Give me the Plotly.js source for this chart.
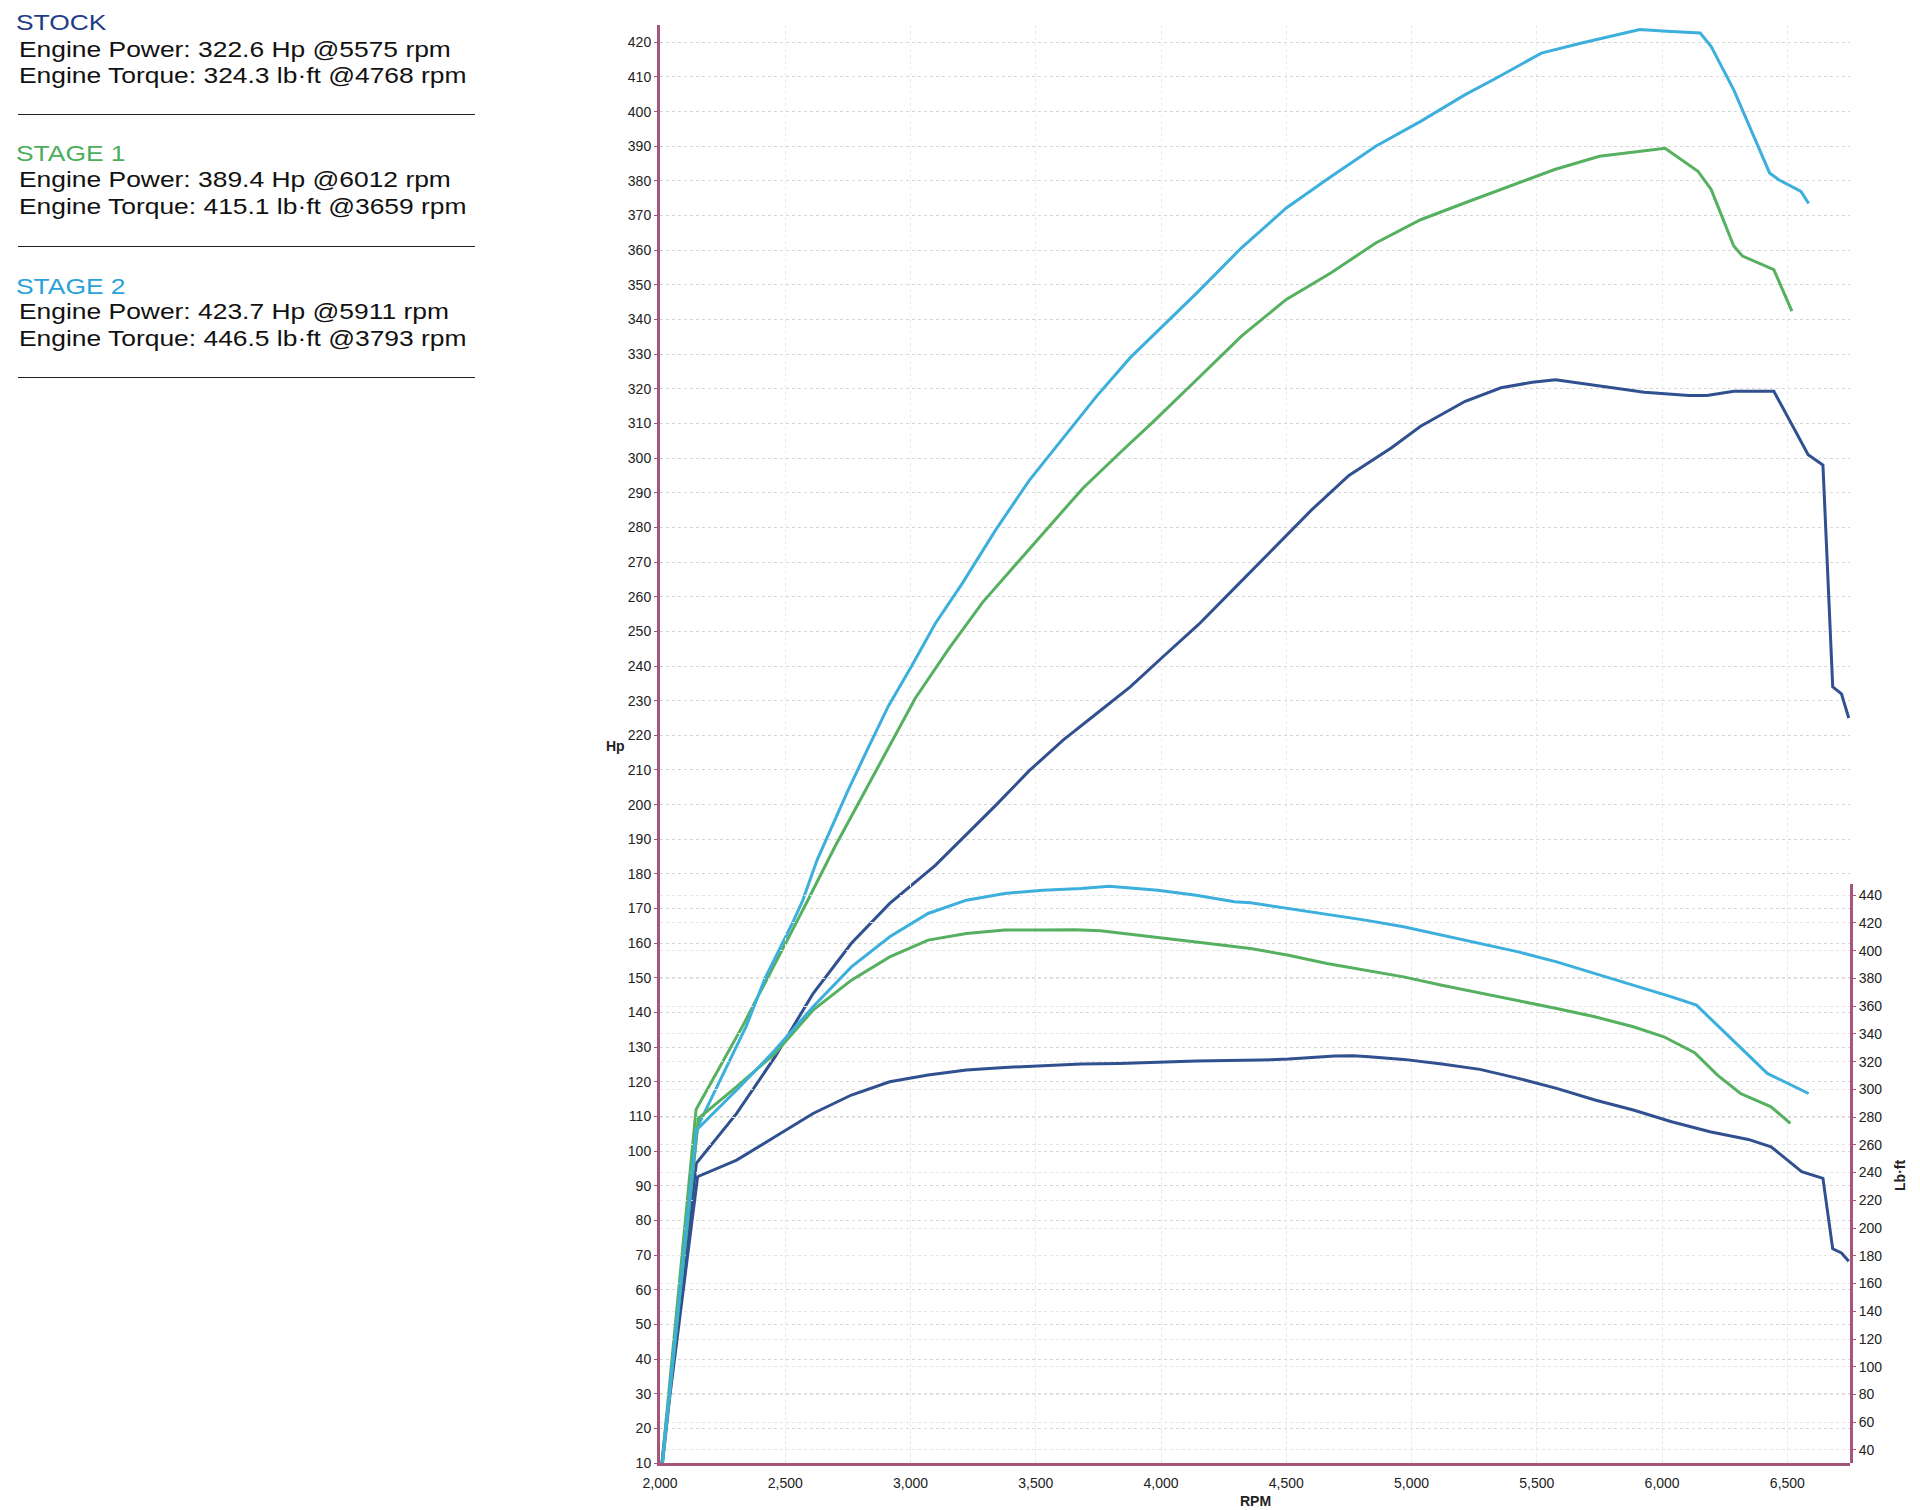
<!DOCTYPE html>
<html>
<head>
<meta charset="utf-8">
<script src="https://cdn.plot.ly/plotly-3.0.1.min.js"></script>
<style>
  body { margin: 0; background: #fff; }
  #plot { width: 1920px; height: 1510px; }
  .info { position: absolute; left: 0; top: 0; font-family: "Liberation Sans", Arial, sans-serif; }
  .info div { position: absolute; white-space: nowrap; font-size: 22px; line-height: 24px; color: #111;
              transform: scaleX(1.2); transform-origin: left center; }
  .info .sep { height: 0; border-top: 1.5px solid #222; width: 457px; left: 18px; transform: none; }
</style>
</head>
<body>
<div id="plot"></div>
<div class="info">
  <div style="left:16px;top:11px;color:#1f3c88">STOCK</div>
  <div style="left:19px;top:38px">Engine Power: 322.6 Hp @5575 rpm</div>
  <div style="left:19px;top:64px">Engine Torque: 324.3 lb·ft @4768 rpm</div>
  <div class="sep" style="top:114px"></div>
  <div style="left:16px;top:142px;color:#4cae5c">STAGE 1</div>
  <div style="left:19px;top:168px">Engine Power: 389.4 Hp @6012 rpm</div>
  <div style="left:19px;top:195px">Engine Torque: 415.1 lb·ft @3659 rpm</div>
  <div class="sep" style="top:246px"></div>
  <div style="left:16px;top:275px;color:#2aa2d8">STAGE 2</div>
  <div style="left:19px;top:300px">Engine Power: 423.7 Hp @5911 rpm</div>
  <div style="left:19px;top:327px">Engine Torque: 446.5 lb·ft @3793 rpm</div>
  <div class="sep" style="top:377px"></div>
</div>
<script>
// stock run
const stockHpRpm = [2008, 2040, 2145, 2306, 2459, 2611, 2764, 2917, 3099, 3233, 3340, 3474, 3609, 3743, 3877, 4011, 4150, 4300, 4450, 4600, 4750, 4920, 5036, 5214, 5357, 5482, 5575, 5750, 5929, 6107, 6179, 6286, 6446, 6583, 6642, 6681, 6716, 6745];
const stockHp = [10, 31, 96.5, 110.9, 127.2, 145.5, 160, 171.5, 182.5, 192.1, 199.8, 209.8, 218.6, 226.3, 234, 242.9, 252, 263, 274, 285, 295, 303, 309.2, 316.4, 320.3, 321.9, 322.6, 320.8, 319, 318.1, 318.1, 319.3, 319.3, 301, 298, 234, 232, 225];
const stockTqRpm = [2010, 2040, 2150, 2306, 2459, 2611, 2764, 2917, 3070, 3223, 3376, 3529, 3681, 3834, 3987, 4140, 4397, 4509, 4693, 4768, 4830, 4968, 5121, 5273, 5426, 5579, 5732, 5885, 6038, 6191, 6344, 6435, 6557, 6642, 6681, 6716, 6745];
const stockTq = [31, 80, 237, 249, 265.8, 282.6, 295.9, 305.5, 310.3, 313.9, 315.8, 317, 318.2, 318.7, 319.6, 320.4, 321.1, 321.8, 324, 324.3, 323.5, 321.6, 318.2, 314.4, 307.9, 300.7, 292.3, 285.1, 276.6, 269.4, 263.9, 258.6, 240.6, 235.8, 185, 182, 176];

// stage 1
const s1HpRpm = [2008, 2144, 2329, 2428, 2530, 2590, 2697, 2804, 2912, 3019, 3153, 3287, 3421, 3555, 3689, 3850, 3964, 4143, 4321, 4500, 4679, 4857, 5036, 5214, 5393, 5571, 5750, 5911, 6012, 6143, 6196, 6286, 6321, 6446, 6518];
const s1Hp = [10, 112, 136, 150, 164, 172.4, 187.7, 202, 216.4, 230.7, 245, 258.3, 269.4, 280.4, 291.4, 302.5, 310.2, 322.7, 335.2, 345.8, 353.5, 362.1, 368.8, 373.7, 378.5, 383.3, 387.1, 388.6, 389.4, 382.8, 377.5, 361.2, 358.3, 354.4, 342.4];
const s1TqRpm = [2010, 2153, 2306, 2459, 2611, 2764, 2917, 3070, 3223, 3376, 3529, 3659, 3758, 3911, 4140, 4357, 4509, 4662, 4815, 4968, 5121, 5273, 5426, 5579, 5732, 5885, 6007, 6130, 6221, 6313, 6435, 6512];
const s1Tq = [31, 279, 301.9, 325.9, 357.1, 378.7, 395.5, 407.6, 412.4, 414.8, 414.8, 415.1, 414.3, 411.2, 406.3, 401.5, 396.7, 390.7, 385.9, 381.1, 375.1, 369.6, 364.3, 358.3, 352.3, 345.1, 337.9, 326.4, 310.3, 297, 287.4, 275.4];

// stage 2
const s2HpRpm = [2008, 2150, 2344, 2420, 2530, 2570, 2627, 2670, 2751, 2831, 2912, 3005, 3099, 3206, 3340, 3474, 3609, 3743, 3877, 4011, 4143, 4321, 4500, 4679, 4857, 5036, 5214, 5339, 5518, 5679, 5857, 5911, 6018, 6152, 6196, 6286, 6429, 6464, 6554, 6585];
const s2Hp = [10, 107, 136, 150, 166, 172.4, 184, 191, 204.2, 216.4, 228.5, 240.1, 252.3, 263.8, 279.3, 293.6, 305.8, 317.9, 329, 338.3, 347.7, 360.7, 372.2, 381.3, 390, 397.2, 404.9, 409.7, 416.9, 419.8, 422.7, 423.7, 423.2, 422.7, 418.8, 406.3, 382.3, 380.4, 377, 373.5];
const s2TqRpm = [2010, 2145, 2306, 2459, 2611, 2764, 2917, 3070, 3223, 3376, 3529, 3681, 3793, 3987, 4140, 4293, 4357, 4509, 4662, 4815, 4968, 5121, 5273, 5426, 5579, 5732, 5885, 6038, 6137, 6267, 6420, 6585];
const s2Tq = [31, 270.6, 299.5, 328.3, 359.5, 388.3, 410, 426.8, 436.4, 441.2, 443.6, 444.8, 446.5, 443.6, 440, 435.2, 434.5, 430.4, 426.3, 422, 417.2, 411.2, 404.7, 399.1, 391.9, 383.5, 375.1, 366.7, 360.7, 337.9, 311.5, 297];

const rpmTicks = [2000, 2500, 3000, 3500, 4000, 4500, 5000, 5500, 6000, 6500];
const tqTicks = [40, 60, 80, 100, 120, 140, 160, 180, 200, 220, 240, 260, 280, 300, 320, 340, 360, 380, 400, 420, 440];

const colStock = '#30508f';
const colS1 = '#55b05f';
const colS2 = '#3cafdc';
const axisCol = '#a8557c';
const font = {family: 'Liberation Sans, Arial, sans-serif', size: 14, color: '#222'};

function line(x, y, color, yaxis) {
    return {x: x, y: y, type: 'scatter', mode: 'lines', yaxis: yaxis,
        line: {color: color, width: 3}, hoverinfo: 'skip'};
}

const data = [
    line(stockHpRpm, stockHp, colStock, 'y'),
    line(s1HpRpm, s1Hp, colS1, 'y'),
    line(s2HpRpm, s2Hp, colS2, 'y'),
    line(stockTqRpm, stockTq, colStock, 'y2'),
    line(s1TqRpm, s1Tq, colS1, 'y2'),
    line(s2TqRpm, s2Tq, colS2, 'y2')
];

const layout = {
    width: 1920,
    height: 1510,
    margin: {l: 660, r: 70, t: 25, b: 47},
    paper_bgcolor: '#fff',
    plot_bgcolor: 'rgba(0,0,0,0)',
    showlegend: false,
    font: font,
    xaxis: {
        range: [2000, 6750],
        tickvals: rpmTicks,
        ticktext: rpmTicks.map(v => v.toLocaleString('en-US')),
        showline: true, linecolor: axisCol, linewidth: 3,
        ticks: 'outside', ticklen: 5, tickcolor: 'rgba(0,0,0,0)', zeroline: false,
        showgrid: true, gridcolor: '#ececec', griddash: 'dot', gridwidth: 1,
        tickfont: font
    },
    yaxis: {
        range: [10, 425],
        tick0: 10, dtick: 10,
        showline: true, linecolor: axisCol, linewidth: 3,
        ticks: 'outside', ticklen: 3, tickcolor: axisCol,
        zeroline: false,
        showgrid: true, gridcolor: '#d6d6d6', griddash: 'dot', gridwidth: 1,
        tickfont: font
    },
    yaxis2: {
        domain: [0, 0.4026],
        anchor: 'x',
        side: 'right',
        range: [30.6, 448],
        tickvals: tqTicks,
        showline: true, linecolor: axisCol, linewidth: 3,
        ticks: 'outside', ticklen: 3, tickcolor: axisCol,
        zeroline: false,
        showgrid: true, gridcolor: '#e4e4e4', griddash: 'dot', gridwidth: 1,
        tickfont: font
    },
    annotations: [
        {text: '<b>Hp</b>', xref: 'paper', yref: 'paper', x: -0.037, y: 0.4986,
            xanchor: 'center', yanchor: 'middle', showarrow: false, font: font},
        {text: '<b>Lb·ft</b>', xref: 'paper', yref: 'paper', x: 1.042, y: 0.2003,
            xanchor: 'center', yanchor: 'middle', textangle: -90, showarrow: false, font: font},
        {text: '<b>RPM</b>', xref: 'paper', yref: 'paper', x: 0.5, y: -0.0264,
            xanchor: 'center', yanchor: 'middle', showarrow: false, font: font}
    ]
};

Plotly.newPlot('plot', data, layout, {staticPlot: true});
</script>
</body>
</html>
